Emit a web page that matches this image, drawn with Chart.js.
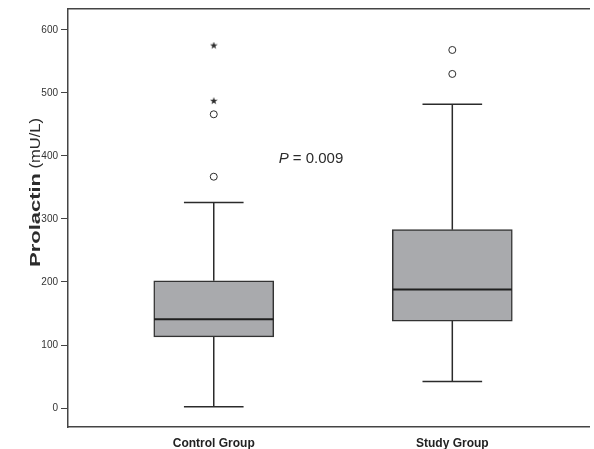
<!DOCTYPE html>
<html>
<head>
<meta charset="utf-8">
<script src="https://cdn.jsdelivr.net/npm/chart.js@4.4.1/dist/chart.umd.min.js"></script>
<style>
  html, body { margin: 0; padding: 0; background: #fff; }
  canvas { display: block; }
</style>
</head>
<body>
<canvas id="boxChart" width="594" height="449"></canvas>
<script>
// Data
const groups = ["Control Group", "Study Group"];
const groupPos = [1, 2];
const lowerWhisker = [2, 42];
const q1 = [113, 138];
const median = [141, 188];
const q3 = [202, 283];
const upperWhisker = [326, 482];
const circleOutliers = [[367, 466], [530, 568]];
const starOutliers = [[487, 575], []];
const yTicks = [0, 100, 200, 300, 400, 500, 600];
const pValue = "0.009";

const FONT = "'Liberation Sans', Arial, Helvetica, sans-serif";
const INK = "#2b2b2b";

// small filled five-point star used as point style
function makeStar(size) {
  const c = document.createElement("canvas");
  c.width = size;
  c.height = size;
  const g = c.getContext("2d");
  const r = size / 2, ri = r * 0.4;
  g.beginPath();
  for (let i = 0; i < 10; i++) {
    const a = -Math.PI / 2 + (i * Math.PI) / 5;
    const rad = i % 2 === 0 ? r : ri;
    g.lineTo(r + rad * Math.cos(a), r + rad * Math.sin(a));
  }
  g.closePath();
  g.fillStyle = INK;
  g.fill();
  return c;
}

const boxData = groupPos.map((x, i) => ({ x, y: [q1[i], q3[i]] }));
const circlePts = [];
const starPts = [];
groupPos.forEach((x, i) => {
  circleOutliers[i].forEach((y) => circlePts.push({ x, y }));
  starOutliers[i].forEach((y) => starPts.push({ x, y }));
});

// whiskers, medians, annotation and mixed-weight axis title
const boxPlotExtras = {
  id: "boxPlotExtras",
  beforeDatasetsDraw(chart) {
    const { ctx, scales: { x, y } } = chart;
    const halfCap = 0.125;
    ctx.save();
    ctx.strokeStyle = INK;
    ctx.lineWidth = 1.5;
    groupPos.forEach((gx, i) => {
      const cx = x.getPixelForValue(gx);
      ctx.beginPath();
      ctx.moveTo(cx, y.getPixelForValue(lowerWhisker[i]));
      ctx.lineTo(cx, y.getPixelForValue(q1[i]));
      ctx.moveTo(cx, y.getPixelForValue(q3[i]));
      ctx.lineTo(cx, y.getPixelForValue(upperWhisker[i]));
      [lowerWhisker[i], upperWhisker[i]].forEach((v) => {
        const py = y.getPixelForValue(v);
        ctx.moveTo(x.getPixelForValue(gx - halfCap), py);
        ctx.lineTo(x.getPixelForValue(gx + halfCap), py);
      });
      ctx.stroke();
    });
    ctx.restore();
  },
  afterDatasetsDraw(chart) {
    const { ctx, scales: { x, y } } = chart;
    const halfBox = 0.25;
    ctx.save();
    ctx.strokeStyle = "#1f1f1f";
    ctx.lineWidth = 2;
    groupPos.forEach((gx, i) => {
      const py = y.getPixelForValue(median[i]);
      ctx.beginPath();
      ctx.moveTo(x.getPixelForValue(gx - halfBox), py);
      ctx.lineTo(x.getPixelForValue(gx + halfBox), py);
      ctx.stroke();
    });

    // P value annotation
    ctx.fillStyle = INK;
    ctx.textBaseline = "middle";
    ctx.textAlign = "left";
    let tx = x.getPixelForValue(1.272);
    const ty = y.getPixelForValue(396);
    ctx.font = "italic 15px " + FONT;
    ctx.fillText("P", tx, ty);
    tx += ctx.measureText("P").width;
    ctx.font = "15px " + FONT;
    ctx.fillText(" = " + pValue, tx, ty);

    // y axis title: bold "Prolactin" + regular "(mU/L)"
    const part1 = "Prolactin";
    const part2 = " (mU/L)";
    const len1 = 94, len2 = 55;
    const start = -(len1 + len2) / 2;
    ctx.translate(36, y.getPixelForValue(342));
    ctx.rotate(-Math.PI / 2);
    ctx.font = "bold 14px " + FONT;
    const w1 = ctx.measureText(part1).width;
    ctx.save();
    ctx.translate(start, 0);
    ctx.scale(len1 / w1, 1);
    ctx.fillText(part1, 0, 0);
    ctx.restore();
    ctx.font = "14px " + FONT;
    const w2 = ctx.measureText(part2).width;
    ctx.save();
    ctx.translate(start + len1, 0);
    ctx.scale(len2 / w2, 1);
    ctx.fillText(part2, 0, 0);
    ctx.restore();
    ctx.restore();
  },
};

const ctx = document.getElementById("boxChart").getContext("2d");
new Chart(ctx, {
  data: {
    datasets: [
      {
        type: "bar",
        label: "Box",
        data: boxData,
        backgroundColor: "#a9aaad",
        borderColor: "#333333",
        borderWidth: 1.5,
        borderSkipped: false,
        barThickness: 120,
        xAxisID: "x",
        yAxisID: "y",
      },
      {
        type: "scatter",
        label: "Outliers",
        data: circlePts,
        pointStyle: "circle",
        pointRadius: 3.5,
        backgroundColor: "#ffffff",
        borderColor: INK,
        borderWidth: 1,
        xAxisID: "x",
        yAxisID: "y",
      },
      {
        type: "scatter",
        label: "Extremes",
        data: starPts,
        pointStyle: makeStar(8),
        xAxisID: "x",
        yAxisID: "y",
      },
    ],
  },
  options: {
    responsive: false,
    animation: false,
    layout: { padding: 0 },
    plugins: {
      legend: { display: false },
      tooltip: { enabled: false },
    },
    scales: {
      x: {
        type: "linear",
        position: "bottom",
        offset: false,
        min: 0.389,
        max: 2.573,
        afterBuildTicks: (s) => { s.ticks = groupPos.map((v) => ({ value: v })); },
        afterFit: (s) => { s.height = 22; },
        ticks: {
          callback: (v) => groups[groupPos.indexOf(v)],
          font: { family: FONT, size: 12, weight: "bold" },
          color: "#222",
          padding: 9,
          maxRotation: 0,
          autoSkip: false,
        },
        grid: { display: false, drawTicks: false, offset: false },
        border: { display: true, color: "#444", width: 1.5 },
      },
      xTop: {
        type: "linear",
        position: "top",
        offset: false,
        afterFit: (s) => { s.height = 9; },
        ticks: { display: false },
        grid: { display: false, drawTicks: false },
        border: { display: true, color: "#444", width: 1.5 },
      },
      y: {
        type: "linear",
        min: -30,
        max: 633,
        afterBuildTicks: (s) => { s.ticks = yTicks.map((v) => ({ value: v })); },
        afterFit: (s) => { s.width = 68; },
        ticks: {
          font: { family: FONT, size: 10 },
          color: "#333",
          padding: 3,
        },
        grid: {
          drawOnChartArea: false,
          drawTicks: true,
          tickLength: 7,
          color: "#444",
          lineWidth: 1,
        },
        border: { display: true, color: "#444", width: 1.5 },
      },
    },
  },
  plugins: [boxPlotExtras],
});
</script>
</body>
</html>
